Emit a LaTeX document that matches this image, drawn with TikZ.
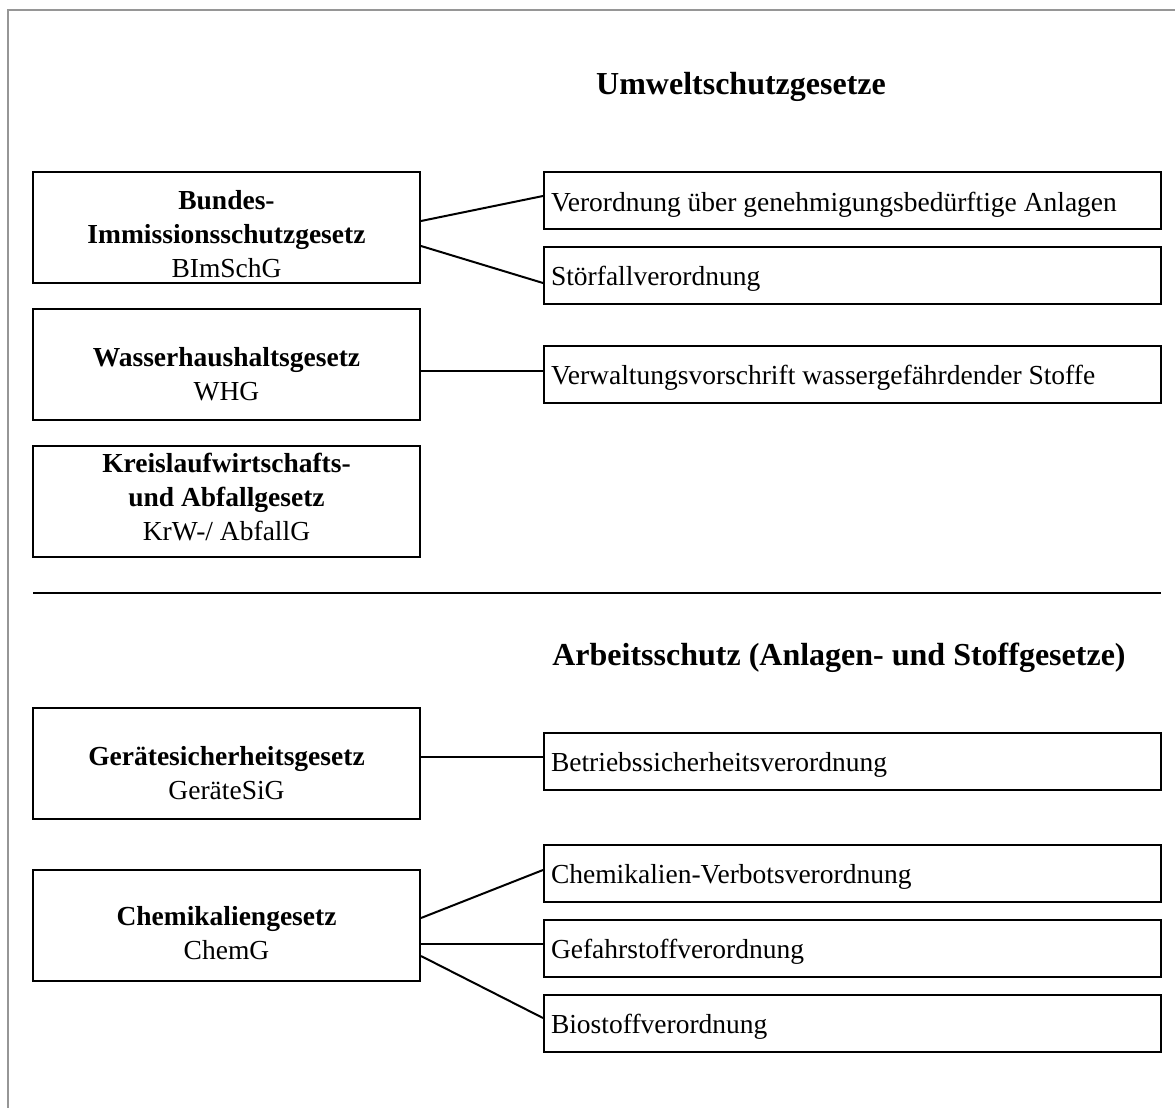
\documentclass[tikz,border=0pt]{standalone}
\usepackage{fontspec}
\setmainfont{Liberation Serif}
\usetikzlibrary{calc}
\definecolor{framegray}{RGB}{150,150,150}
\begin{document}
\begin{tikzpicture}[x=1pt,y=-1pt,
  lawbox/.style={draw=black,line width=2pt,minimum width=387pt,minimum height=111pt,inner sep=0pt},
  lawtext/.style={align=center,inner sep=0pt,font=\fontsize{27.5}{34}\selectfont},
  regbox/.style={draw=black,line width=2pt,minimum width=617pt,minimum height=57pt,
    inner xsep=7pt,inner ysep=0pt,text height=26pt,text depth=5pt,font=\fontsize{27.5}{34}\selectfont},
  heading/.style={inner sep=0pt,font=\fontsize{32}{38}\selectfont\bfseries},
  link/.style={line width=2pt}]
\useasboundingbox (0,0) rectangle (1175,1108);
% page frame (top and left edges only)
\draw[framegray,line width=1.5pt] (8,1108) -- (8,10) -- (1175,10);

% headings
\node[heading] (t1) at (741,87) {Umweltschutzgesetze};
\node[heading] (t2) at (839,658) {Arbeitsschutz (Anlagen- und Stoffgesetze)};

% environmental protection laws
\node[lawbox] (bimsch) at (226.5,227.5) {};
\node[lawtext] (bimsch-t) at ($(bimsch.center)+(0,7)$) {\textbf{Bundes-}\\\textbf{Immissionsschutzgesetz}\\BImSchG};
\node[lawbox] (whg) at (226.5,364) {};
\node[lawtext] (whg-t) at ($(whg.center)+(0,10)$) {\textbf{Wasserhaushaltsgesetz}\\WHG};
\node[lawbox] (krw) at (226.5,501) {};
\node[lawtext] (krw-t) at ($(krw.center)+(0,-4)$) {\textbf{Kreislaufwirtschafts-}\\\textbf{und Abfallgesetz}\\KrW-/ AbfallG};

\node[regbox] (vgen) at (852.5,200.5) {\makebox[603pt][l]{Verordnung über genehmigungsbedürftige Anlagen}};
\node[regbox] (stoer) at (852.5,275) {\makebox[603pt][l]{Störfallverordnung}};
\node[regbox] (vwvws) at (852.5,374) {\makebox[603pt][l]{Verwaltungsvorschrift wassergefährdender Stoffe}};

% separator
\coordinate (sepL) at (33,593);
\coordinate (sepR) at (1161,593);
\draw[link] (sepL) -- (sepR);

% occupational safety laws
\node[lawbox] (gsg) at (226.5,763) {};
\node[lawtext] (gsg-t) at ($(gsg.center)+(0,10)$) {\textbf{Gerätesicherheitsgesetz}\\GeräteSiG};
\node[lawbox] (chemg) at (226.5,925) {};
\node[lawtext] (chemg-t) at ($(chemg.center)+(0,8)$) {\textbf{Chemikaliengesetz}\\ChemG};

\node[regbox] (betr) at (852.5,761) {\makebox[603pt][l]{Betriebssicherheitsverordnung}};
\node[regbox] (chemv) at (852.5,873) {\makebox[603pt][l]{Chemikalien-Verbotsverordnung}};
\node[regbox] (gefst) at (852.5,948) {\makebox[603pt][l]{Gefahrstoffverordnung}};
\node[regbox] (bio) at (852.5,1023) {\makebox[603pt][l]{Biostoffverordnung}};

% connectors
\draw[link] ($(bimsch.east)+(0,-6.5)$) -- ($(vgen.west)+(0,-4.5)$);
\draw[link] ($(bimsch.east)+(0,18.5)$) -- ($(stoer.west)+(0,8)$);
\draw[link] ($(whg.east)+(0,7)$) -- ($(vwvws.west)+(0,-3)$);
\draw[link] ($(gsg.east)+(0,-6)$) -- ($(betr.west)+(0,-4)$);
\draw[link] ($(chemg.east)+(0,-7)$) -- ($(chemv.west)+(0,-3)$);
\draw[link] ($(chemg.east)+(0,19)$) -- ($(gefst.west)+(0,-4)$);
\draw[link] ($(chemg.east)+(0,31)$) -- ($(bio.west)+(0,-5)$);
\end{tikzpicture}
\end{document}
